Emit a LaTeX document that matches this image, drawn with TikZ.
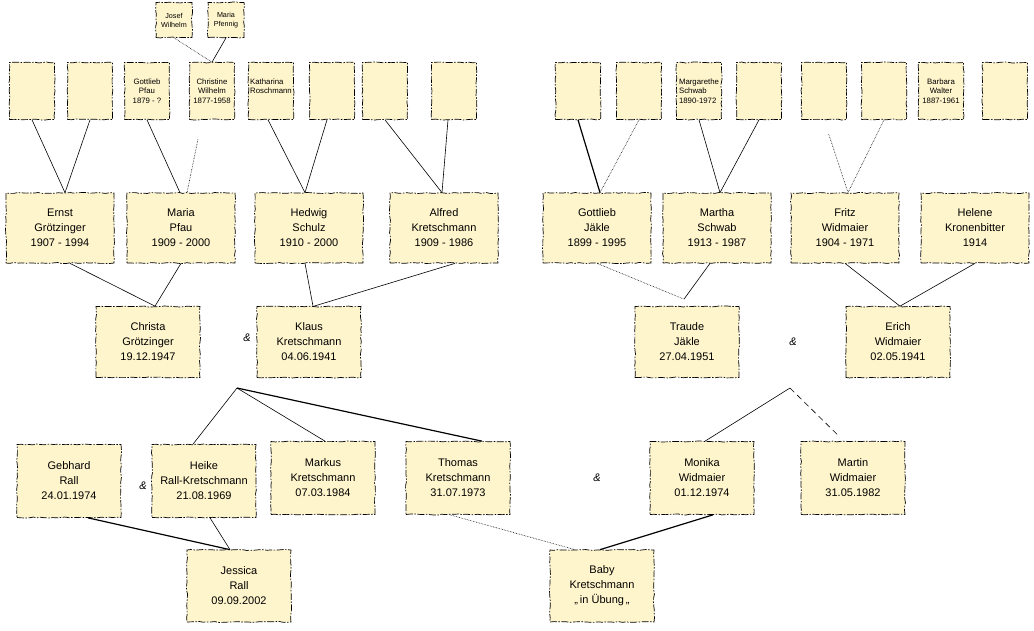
\documentclass[tikz,border=0pt]{standalone}
\usepackage{fontspec}
\setmainfont{Liberation Sans}
\usetikzlibrary{positioning,calc,decorations.pathmorphing}
\definecolor{parchment}{RGB}{255,245,204}
\tikzset{
	rough/.style={draw, fill=parchment, line width=0.7pt,
		dash pattern=on 7pt off 1.5pt on 1.5pt off 1.5pt,
		decorate, decoration={random steps, segment length=4pt, amplitude=0.5pt},
		inner sep=1pt, align=center},
	person/.style={rough, minimum width=104pt, minimum height=71pt,
		font=\fontsize{11}{15}\selectfont},
	elder/.style={rough, minimum width=108pt, minimum height=70pt,
		font=\fontsize{11}{15}\selectfont},
	ancestor/.style={rough, minimum width=45pt, minimum height=57pt,
		font=\fontsize{7.8}{9.5}\selectfont},
	oldest/.style={rough, minimum width=36pt, minimum height=35pt,
		font=\fontsize{7.2}{9}\selectfont},
	link/.style={line width=0.6pt},
	boldlink/.style={line width=1.2pt},
	dotlink/.style={line width=0.6pt, densely dotted},
	amp/.style={font=\fontsize{11}{13}\selectfont\itshape}
}
\begin{document}
\begin{tikzpicture}[x=1pt, y=-1pt]
	\pgfmathsetseed{4711}
	\useasboundingbox (0,0) rectangle (1034,630);
	%	\draw [help lines] (0,0) grid (1034,630);

	% oldest generation
	\node[oldest] (jwilhelm) at (174,20) {Josef\\Wilhelm};
	\node[oldest] (mpfennig) at (226,20) {Maria\\Pfennig};

	% great-grandparents, left side
	\node[ancestor] (pa) at (32,91) {};
	\node[ancestor] (pb) at (90,91) {};
	\node[ancestor] (gpfau) at (147,91) {Gottlieb\\Pfau\\1879 - ?};
	\node[ancestor] (cwilhelm) at (212,91) {Christine\\Wilhelm\\1877-1958};
	\node[ancestor, align=left] (kroschmann) at (271,91) {Katharina\\Roschmann\\~};
	\node[ancestor] (pf) at (332,91) {};
	\node[ancestor] (pg) at (385,91) {};
	\node[ancestor] (ph) at (454,91) {};

	% great-grandparents, right side
	\node[ancestor] (pi) at (578,91) {};
	\node[ancestor] (pj) at (639,91) {};
	\node[ancestor, align=left] (mschwab) at (699,91) {Margarethe\\Schwab\\1890-1972};
	\node[ancestor] (pl) at (759,91) {};
	\node[ancestor] (pm) at (824,91) {};
	\node[ancestor] (pn) at (884,91) {};
	\node[ancestor] (bwalter) at (941,91) {Barbara\\Walter\\1887-1961};
	\node[ancestor] (pp) at (1005,91) {};

	% grandparents
	\node[elder] (ernst) at (60,228) {Ernst\\Grötzinger\\1907 - 1994};
	\node[elder] (mpfau) at (181,228) {Maria\\Pfau\\1909 - 2000};
	\node[elder] (hschulz) at (309,228) {Hedwig\\Schulz\\1910 - 2000};
	\node[elder] (akretschmann) at (444,228) {Alfred\\Kretschmann\\1909 - 1986};
	\node[elder] (gjaekle) at (597,228) {Gottlieb\\Jäkle\\1899 - 1995};
	\node[elder] (martha) at (717,228) {Martha\\Schwab\\1913 - 1987};
	\node[elder] (fwidmaier) at (845,228) {Fritz\\Widmaier\\1904 - 1971};
	\node[elder] (hkronenbitter) at (975,228) {Helene\\Kronenbitter\\1914};

	% parents
	\node[person] (christa) at (148,342) {Christa\\Grötzinger\\19.12.1947};
	\node[amp] (ampa) at (247,338) {\&};
	\node[person] (klaus) at (309,342) {Klaus\\Kretschmann\\04.06.1941};
	\node[person] (traude) at (687,342) {Traude\\Jäkle\\27.04.1951};
	\node[amp] (ampb) at (793,342) {\&};
	\node[person] (erich) at (898,342) {Erich\\Widmaier\\02.05.1941};

	% children
	\node[person, minimum height=73pt] (gebhard) at (69,481) {Gebhard\\Rall\\24.01.1974};
	\node[amp] (ampc) at (143,486) {\&};
	\node[person, minimum height=73pt] (heike) at (204,481) {Heike\\Rall-Kretschmann\\21.08.1969};
	\node[person, minimum height=73pt] (markus) at (323,478) {Markus\\Kretschmann\\07.03.1984};
	\node[person, minimum height=73pt] (thomas) at (458,478) {Thomas\\Kretschmann\\31.07.1973};
	\node[amp] (ampd) at (597,478) {\&};
	\node[person, minimum height=73pt] (monika) at (702,478) {Monika\\Widmaier\\01.12.1974};
	\node[person, minimum height=73pt] (martin) at (853,478) {Martin\\Widmaier\\31.05.1982};

	% grandchildren
	\node[person, minimum height=72pt] (jessica) at (239,586) {Jessica\\Rall\\09.09.2002};
	\node[person, minimum height=72pt] (baby) at (602,586) {Baby\\Kretschmann\\„\,in Übung\,„};

	% lines oldest -> Christine
	\draw[dotlink] (jwilhelm.south) -- (cwilhelm.north);
	\draw[link] (mpfennig.south) -- (cwilhelm.north);

	% lines great-grandparents -> grandparents
	\draw[link] (pa.south) -- ([xshift=5pt]ernst.north);
	\draw[link] (pb.south) -- ([xshift=5pt]ernst.north);
	\draw[link] (gpfau.south) -- ([xshift=-1pt]mpfau.north);
	\draw[dotlink, shorten <=20pt] ([xshift=-10pt]cwilhelm.south) -- ([xshift=6pt]mpfau.north);
	\draw[link] ([xshift=-3pt]kroschmann.south) -- ([xshift=-4pt]hschulz.north);
	\draw[link] ([xshift=-5pt]pf.south) -- ([xshift=-4pt]hschulz.north);
	\draw[link] (pg.south) -- ([xshift=-2pt]akretschmann.north);
	\draw[link] ([xshift=-6pt]ph.south) -- ([xshift=-2pt]akretschmann.north);
	\draw[boldlink] (pi.south) -- ([xshift=3pt]gjaekle.north);
	\draw[dotlink] (pj.south) -- ([xshift=3pt]gjaekle.north);
	\draw[link] (mschwab.south) -- ([xshift=3pt]martha.north);
	\draw[link] (pl.south) -- ([xshift=3pt]martha.north);
	\draw[dotlink, shorten <=15pt] (pm.south) -- ([xshift=3pt]fwidmaier.north);
	\draw[dotlink] (pn.south) -- ([xshift=3pt]fwidmaier.north);

	% lines grandparents -> parents
	\draw[link] ([xshift=10pt]ernst.south) -- ([xshift=7pt]christa.north);
	\draw[link] (mpfau.south) -- ([xshift=7pt]christa.north);
	\draw[link] ([xshift=-4pt]hschulz.south) -- ([xshift=4pt]klaus.north);
	\draw[link] ([xshift=11pt]akretschmann.south) -- ([xshift=5pt]klaus.north);
	\draw[dotlink] (gjaekle.south) -- ([xshift=-3pt,yshift=7pt]traude.north);
	\draw[link] ([xshift=-7pt]martha.south) -- ([xshift=-3pt,yshift=7pt]traude.north);
	\draw[link] (fwidmaier.south) -- ([xshift=2pt]erich.north);
	\draw[link] (hkronenbitter.south) -- ([xshift=2pt]erich.north);

	% lines parents -> children
	\coordinate (ckjoin) at (237,388);
	\coordinate (tejoin) at (790,388);
	\draw[link] (ckjoin) -- ([xshift=-11pt]heike.north);
	\draw[link] (ckjoin) -- ([xshift=2pt]markus.north);
	\draw[boldlink] (ckjoin) -- ([xshift=24pt]thomas.north);
	\draw[link] (tejoin) -- ([xshift=3pt]monika.north);
	\draw[link, dash pattern=on 6pt off 4pt] (tejoin) -- ([xshift=-13pt,yshift=4pt]martin.north);

	% lines children -> grandchildren
	\draw[boldlink] ([xshift=19pt]gebhard.south) -- ([xshift=-9pt]jessica.north);
	\draw[link] ([xshift=6pt]heike.south) -- ([xshift=-9pt]jessica.north);
	\draw[dotlink] ([xshift=-8pt]thomas.south) -- ([xshift=-27pt]baby.north);
	\draw[boldlink] ([xshift=11pt]monika.south) -- ([xshift=-2pt]baby.north);
\end{tikzpicture}
\end{document}
